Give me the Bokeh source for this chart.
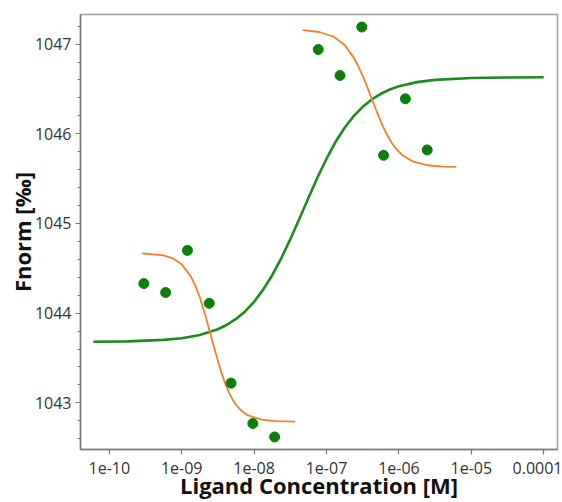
from bokeh.plotting import figure
from bokeh.models import FixedTicker, Range1d
from bokeh.embed import file_html
from bokeh.resources import INLINE

# measured points
conc = [3.0e-10, 6.0e-10, 1.2e-9, 2.4e-9, 4.8e-9, 9.6e-9, 1.92e-8,
        7.68e-8, 1.536e-7, 3.07e-7, 6.14e-7, 1.23e-6, 2.46e-6]
fnorm = [1044.33, 1044.23, 1044.70, 1044.11, 1043.22, 1042.77, 1042.62,
         1046.94, 1046.65, 1047.19, 1045.76, 1046.39, 1045.82]

# green fit curve
fit_x = [6.03e-11, 1.78e-10, 5.62e-10, 1.0e-9, 1.78e-9, 3.16e-9, 4.22e-9, 5.62e-9,
         7.50e-9, 1.0e-8, 1.33e-8, 1.78e-8, 2.37e-8, 3.16e-8, 4.22e-8, 5.62e-8,
         7.50e-8, 1.0e-7, 1.33e-7, 1.78e-7, 2.37e-7, 3.16e-7, 4.22e-7, 5.62e-7,
         7.50e-7, 1.0e-6, 1.78e-6, 3.16e-6, 1.0e-5, 3.16e-5, 1.0e-4]
fit_y = [1043.682, 1043.686, 1043.702, 1043.721, 1043.757, 1043.821, 1043.871, 1043.936,
         1044.020, 1044.127, 1044.261, 1044.423, 1044.612, 1044.824, 1045.052, 1045.285,
         1045.512, 1045.722, 1045.908, 1046.067, 1046.197, 1046.301, 1046.383, 1046.446,
         1046.494, 1046.529, 1046.576, 1046.601, 1046.622, 1046.628, 1046.630]

# orange fit curve, low concentrations
fit1_x = [2.82e-10, 5.62e-10, 7.50e-10, 1.0e-9, 1.33e-9, 1.54e-9, 1.78e-9, 2.11e-9,
          2.51e-9, 2.99e-9, 3.55e-9, 3.98e-9, 4.47e-9, 5.01e-9, 5.62e-9, 6.68e-9,
          7.94e-9, 1.26e-8, 2.0e-8, 3.72e-8]
fit1_y = [1044.666, 1044.644, 1044.612, 1044.545, 1044.412, 1044.308, 1044.176, 1043.981,
          1043.760, 1043.536, 1043.332, 1043.217, 1043.120, 1043.041, 1042.979, 1042.911,
          1042.867, 1042.812, 1042.796, 1042.791]

# orange fit curve, high concentrations
fit2_x = [4.68e-8, 7.94e-8, 1.26e-7, 1.78e-7, 2.37e-7, 2.75e-7, 3.16e-7, 3.55e-7,
          3.98e-7, 4.47e-7, 5.01e-7, 5.62e-7, 6.31e-7, 7.08e-7, 7.94e-7, 9.44e-7,
          1.12e-6, 1.58e-6, 2.51e-6, 3.98e-6, 6.17e-6]
fit2_y = [1047.155, 1047.135, 1047.082, 1046.990, 1046.852, 1046.753, 1046.647, 1046.548,
          1046.444, 1046.338, 1046.235, 1046.137, 1046.047, 1045.969, 1045.901, 1045.820,
          1045.760, 1045.689, 1045.649, 1045.635, 1045.631]

x_ticks = [1e-10, 1e-9, 1e-8, 1e-7, 1e-6, 1e-5, 1e-4]
x_tick_labels = ["1e-10", "1e-09", "1e-08", "1e-07", "1e-06", "1e-05", "0.0001"]
y_ticks = [1043, 1044, 1045, 1046, 1047]
y_minor = [1042.6, 1042.8, 1043.2, 1043.4, 1043.6, 1043.8, 1044.2, 1044.4, 1044.6,
           1044.8, 1045.2, 1045.4, 1045.6, 1045.8, 1046.2, 1046.4, 1046.6, 1046.8, 1047.2]

p = figure(width=562, height=502, x_axis_type="log", output_backend="svg",
           toolbar_location=None,
           x_range=Range1d(4.0e-11, 1.55e-4), y_range=Range1d(1042.48, 1047.33),
           min_border_left=80, min_border_top=14, min_border_right=5, min_border_bottom=53)

p.line(fit_x, fit_y, line_color="#1f8a1f", line_width=2.6)
p.line(fit1_x, fit1_y, line_color="#f0802c", line_width=1.8)
p.line(fit2_x, fit2_y, line_color="#f0802c", line_width=1.8)
p.scatter(conc, fnorm, size=10, fill_color="#0a800a", line_color="#0a800a")

p.xgrid.visible = False
p.ygrid.visible = False
p.outline_line_color = "#a0a0a0"
p.outline_line_width = 1.5
p.background_fill_color = "white"
p.border_fill_color = "white"

xa = p.xaxis[0]
xa.ticker = FixedTicker(ticks=x_ticks)
xa.major_label_overrides = {t: l for t, l in zip(x_ticks, x_tick_labels)}
xa.axis_label = "Ligand Concentration [M]"

ya = p.yaxis[0]
ya.ticker = FixedTicker(ticks=y_ticks, minor_ticks=y_minor)
ya.axis_label = "Fnorm [‰]"

for ax in (xa, ya):
    ax.axis_line_color = "#7a7a7a"
    ax.axis_line_width = 1.5
    ax.major_tick_line_color = "#7a7a7a"
    ax.major_tick_line_width = 1.2
    ax.major_tick_out = 5
    ax.major_tick_in = 0
    ax.minor_tick_line_color = "#7a7a7a"
    ax.minor_tick_out = 3
    ax.minor_tick_in = 0
    ax.major_label_text_font = "Open Sans"
    ax.major_label_text_font_size = "16px"
    ax.major_label_text_color = "#333333"
    ax.axis_label_text_font = "Open Sans"
    ax.axis_label_text_font_style = "bold"
    ax.axis_label_text_font_size = "22px"
    ax.axis_label_text_color = "#111111"

xa.minor_tick_line_color = None
xa.major_label_standoff = 7
xa.axis_label_standoff = -7
ya.major_label_standoff = 4
ya.axis_label_standoff = -5

open("out.html", "w").write(file_html(p, INLINE))
